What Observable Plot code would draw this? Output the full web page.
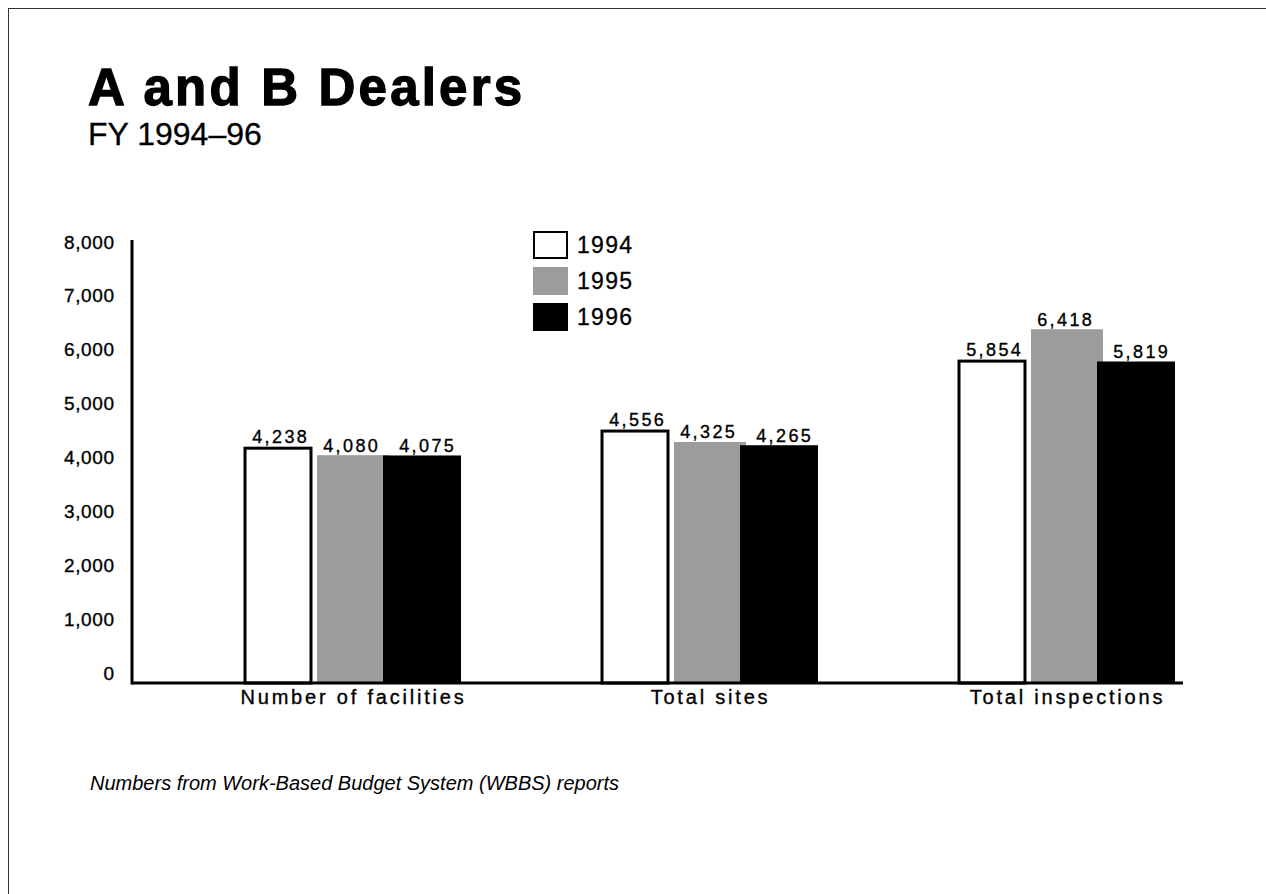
<!DOCTYPE html>
<html>
<head>
<meta charset="utf-8">
<script src="https://cdn.jsdelivr.net/npm/d3@7"></script>
<script src="https://cdn.jsdelivr.net/npm/@observablehq/plot@0.6"></script>
<style>
  html, body { margin: 0; padding: 0; background: #fff; }
  body { width: 1266px; height: 894px; position: relative; overflow: hidden; font-family: "Liberation Sans", Arial, sans-serif; color: #000; }
  .frame { position: absolute; left: 8px; top: 8px; right: -10px; bottom: -10px; border-left: 1.5px solid #333; border-top: 1.5px solid #333; }
  .abs { position: absolute; line-height: 1; white-space: nowrap; }
  #title { left: 88px; top: 62px; font-size: 51px; font-weight: bold; letter-spacing: 3.2px; -webkit-text-stroke: 1.3px #000; }
  #subtitle { left: 88px; top: 118px; font-size: 32px; -webkit-text-stroke: 0.3px #000; }
  #caption { left: 90px; top: 773px; font-size: 20px; font-style: italic; letter-spacing: 0px; }
  #chart { position: absolute; left: 0; top: 0; }
  #chart svg text { letter-spacing: 2.4px; stroke: #000; stroke-width: 0.35px; }
  #chart svg g[aria-label="y-axis tick label"] text { letter-spacing: 0.6px; }
  #chart svg g[aria-label="fx-axis tick label"] text { letter-spacing: 2.8px; }
  .lg-box { position: absolute; left: 533px; width: 35px; height: 28px; box-sizing: border-box; }
  .lg-txt { position: absolute; left: 577px; font-size: 23px; line-height: 1; letter-spacing: 1.3px; -webkit-text-stroke: 0.3px #000; }
</style>
</head>
<body>
<div class="frame"></div>
<div id="title" class="abs">A and B Dealers</div>
<div id="subtitle" class="abs">FY 1994–96</div>
<div id="chart"></div>
<div id="legend"></div>
<div id="caption" class="abs">Numbers from Work-Based Budget System (WBBS) reports</div>
<script>
const groups = ["Number of facilities", "Total sites", "Total inspections"];
const years = ["1994", "1995", "1996"];
const values1994 = [4238, 4556, 5854];
const values1995 = [4080, 4325, 6418];
const values1996 = [4075, 4265, 5819];
const yTicks = [0, 1000, 2000, 3000, 4000, 5000, 6000, 7000, 8000];
const yearColors = ["#ffffff", "#9c9c9c", "#000000"];

const seriesByYear = [values1994, values1995, values1996];
const data = groups.flatMap((g, i) => years.map((yr, j) => ({group: g, year: yr, value: seriesByYear[j][i]})));

const W = 1266, H = 740, ML = 132, MR = 83, MT = 244, MB = 65;
const fxPadIn = 0.3515, fxPadOut = 0.1437;
const fxStep = (W - ML - MR) / (groups.length - fxPadIn + 2 * fxPadOut);
const firstFacetOffset = 2 * fxPadOut * fxStep; // align: 1 puts all outer padding on the left
const fmt = d3.format(",");

// per-year bar styling (the original draws the 1994 bar outlined and the 1996 bar slightly wider)
const barStyle = {
  "1994": {stroke: "#000", strokeWidth: 3, insetLeft: 0, insetRight: 6, insetTop: 1.5, insetBottom: -8, dx: -2},
  "1995": {insetLeft: 0, insetRight: 0, insetTop: 0, insetBottom: -8, dx: -3},
  "1996": {insetLeft: -6, insetRight: 0, insetTop: 0, insetBottom: -8, dx: 1}
};

const yearMarks = years.flatMap(yr => {
  const {dx, ...bs} = barStyle[yr];
  const rows = data.filter(d => d.year === yr);
  return [
    Plot.barY(rows, {fx: "group", x: "year", y: "value", fill: "year", ...bs}),
    Plot.text(rows, {fx: "group", x: "year", y: "value", text: d => fmt(d.value), lineAnchor: "bottom", dy: -4, dx: dx + 1.2, fontSize: 18})
  ];
});

const plot = Plot.plot({
  width: W, height: H,
  marginLeft: ML, marginRight: MR, marginTop: MT, marginBottom: MB,
  style: {fontFamily: "Liberation Sans, Arial, sans-serif", fontSize: "19px", background: "transparent", overflow: "visible", color: "#000"},
  fx: {domain: groups, paddingInner: fxPadIn, paddingOuter: fxPadOut, align: 1, label: null},
  x: {domain: years, paddingInner: 0, paddingOuter: 0.104, axis: null},
  y: {domain: [0, 8000], label: null},
  color: {domain: years, range: yearColors},
  marks: [
    Plot.axisY({ticks: yTicks, tickFormat: fmt, tickSize: 0, tickPadding: 20 + firstFacetOffset, label: null, fontSize: 19, dy: -2}),
    Plot.axisFx({anchor: "bottom", tickSize: 0, tickPadding: 14, label: null, fontSize: 20}),
    ...yearMarks
  ]
});
document.getElementById("chart").appendChild(plot);

// Axis lines drawn with the plot's own y scale
const yS = plot.scale("y");
const svg = d3.select(plot.tagName.toLowerCase() === "svg" ? plot : plot.querySelector("svg"));
const yTop = yS.apply(8000) - 4, yBase = yS.apply(0) + 8;
svg.append("line").attr("x1", ML).attr("x2", ML).attr("y1", yTop).attr("y2", yBase + 1.5).attr("stroke", "#000").attr("stroke-width", 3);
svg.append("line").attr("x1", ML).attr("x2", W - MR).attr("y1", yBase).attr("y2", yBase).attr("stroke", "#000").attr("stroke-width", 3);

// Legend
const legend = document.getElementById("legend");
years.forEach((yr, i) => {
  const top = 231 + i * 36;
  const box = document.createElement("div");
  box.className = "lg-box";
  box.style.top = top + "px";
  box.style.background = yearColors[i];
  box.style.border = i === 0 ? "2.5px solid #000" : "none";
  legend.appendChild(box);
  const t = document.createElement("div");
  t.className = "lg-txt";
  t.style.top = (top + 14 - 0.488 * 23) + "px";
  t.textContent = yr;
  legend.appendChild(t);
});
</script>
</body>
</html>
